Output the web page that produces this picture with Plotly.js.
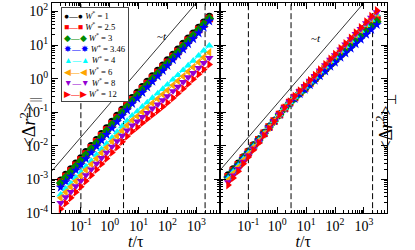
<!DOCTYPE html>
<html><head><meta charset="utf-8">
<script src="https://cdn.plot.ly/plotly-3.0.1.min.js"></script>
<style>html,body{margin:0;padding:0;background:#fff}#chart{width:415px;height:250px}</style>
</head><body><div id="chart"></div>
<script>
// time axis t/tau (shared by every series)
const tTimes = [0.02,0.03,0.045,0.067,0.1,0.15,0.23,0.35,0.52,0.78,1.2,1.8,2.7,4,6,9,13.5,20,30,46,69,100,155,230,350,520,780,1200,1800,2800];

const seriesNames = ['1','2.5','3','3.46','4','6','8','12'];
const seriesColors = ['#000000','#ff0000','#008b00','#0000ff','#00ffff','#ffa500','#9400d3','#ff0000'];
const seriesSymbols = ['circle','square','diamond','star','triangle-up','triangle-left','triangle-down','triangle-right'];
const legendGlyphs = ['\u25CF','\u25A0','\u25C6','\u2738','\u25B2','\u25C0','\u25BC','\u25B6'];

// <Δr²>_|| (left panel)
const par_W1   = [9.5e-4,1.41e-3,2.04e-3,3.02e-3,4.37e-3,6.6e-3,0.0100,0.0151,0.0229,0.0339,0.0525,0.0794,0.120,0.178,0.269,0.389,0.575,0.813,1.20,1.74,2.51,3.55,5.25,7.41,11.0,15.8,22.4,33.1,47.9,70.8];
const par_W25  = [8.3e-4,1.23e-3,1.78e-3,2.63e-3,3.8e-3,5.75e-3,8.7e-3,0.0132,0.020,0.0295,0.0457,0.0692,0.105,0.155,0.234,0.339,0.50,0.71,1.05,1.51,2.19,3.09,4.57,6.46,9.55,13.8,19.5,28.8,41.7,61.7];
const par_W3   = [7.8e-4,1.15e-3,1.66e-3,2.45e-3,3.55e-3,5.37e-3,8.1e-3,0.0123,0.0186,0.0275,0.0427,0.0646,0.098,0.145,0.219,0.316,0.468,0.661,0.977,1.41,2.04,2.88,4.27,6.17,9.12,13.2,19.1,28.2,41.7,61.7];
const par_W346 = [5.75e-4,8.5e-4,1.23e-3,1.86e-3,2.69e-3,4.07e-3,6.17e-3,9.55e-3,0.0145,0.0214,0.0331,0.0513,0.0776,0.115,0.178,0.257,0.380,0.550,0.813,1.17,1.70,2.40,3.55,5.01,7.41,10.7,15.1,22.4,33.1,51.3];
const par_W4   = [3.55e-4,5.25e-4,7.6e-4,1.12e-3,1.62e-3,2.40e-3,3.55e-3,5.37e-3,7.9e-3,0.0115,0.0174,0.0257,0.038,0.055,0.079,0.105,0.145,0.195,0.263,0.363,0.49,0.66,0.93,1.26,1.78,2.45,3.39,4.79,6.76,9.55];
const par_W6   = [2.82e-4,4.17e-4,6.03e-4,8.9e-4,1.29e-3,1.91e-3,2.82e-3,4.17e-3,6.17e-3,8.9e-3,0.0135,0.0195,0.0282,0.0407,0.0575,0.0759,0.102,0.138,0.186,0.251,0.339,0.447,0.631,0.851,1.17,1.62,2.19,3.09,4.27,6.03];
const par_W8   = [2.0e-4,2.95e-4,4.27e-4,6.3e-4,9.1e-4,1.35e-3,2.0e-3,2.95e-3,4.37e-3,6.3e-3,9.5e-3,0.0138,0.020,0.0288,0.0407,0.0537,0.0724,0.0955,0.129,0.170,0.229,0.302,0.427,0.575,0.794,1.10,1.48,2.09,2.95,4.17];
const par_W12  = [1.32e-4,1.95e-4,2.82e-4,4.17e-4,6.03e-4,8.9e-4,1.32e-3,1.95e-3,2.88e-3,4.17e-3,6.3e-3,9.1e-3,0.0132,0.0191,0.0269,0.0355,0.0479,0.0631,0.0832,0.110,0.145,0.191,0.263,0.363,0.501,0.692,0.955,1.35,1.86,2.63];

// <Δr²>_⊥ (right panel)
const perp_W1   = [1.35e-3,2.04e-3,3.02e-3,4.68e-3,6.9e-3,0.0105,0.0158,0.0245,0.0372,0.055,0.085,0.132,0.195,0.275,0.389,0.537,0.759,1.05,1.48,2.09,2.95,3.98,5.75,7.94,11.2,15.8,21.9,31.6,44.7,64.6];
const perp_W25  = [1.20e-3,1.84e-3,2.75e-3,4.32e-3,6.46e-3,9.9e-3,0.0152,0.0238,0.0365,0.0546,0.085,0.131,0.193,0.272,0.383,0.527,0.741,1.02,1.44,2.02,2.84,3.83,5.51,7.57,10.7,15.0,20.7,29.7,41.9,60.3];
const perp_W3   = [1.15e-3,1.78e-3,2.69e-3,4.2e-3,6.3e-3,9.7e-3,0.015,0.0236,0.0363,0.0545,0.0845,0.129,0.188,0.262,0.366,0.498,0.693,0.944,1.32,1.83,2.55,3.39,4.83,6.58,9.16,12.7,17.4,24.7,34.4,49.0];
const perp_W346 = [1.12e-3,1.73e-3,2.61e-3,4.12e-3,6.21e-3,9.57e-3,0.0148,0.0233,0.0361,0.0543,0.0841,0.127,0.184,0.253,0.349,0.470,0.647,0.873,1.20,1.66,2.28,3.01,4.24,5.70,7.85,10.8,14.6,20.5,28.3,39.8];
const perp_W4   = [1.07e-3,1.66e-3,2.52e-3,3.99e-3,6.04e-3,9.37e-3,0.0145,0.0231,0.0357,0.0541,0.0855,0.134,0.201,0.286,0.410,0.573,0.818,1.14,1.63,2.33,3.33,4.55,6.67,9.29,13.3,19.0,26.5,38.8,55.6,81.3];
const perp_W6   = [9.55e-4,1.50e-3,2.30e-3,3.69e-3,5.65e-3,8.87e-3,0.0139,0.0223,0.0351,0.0537,0.0857,0.135,0.203,0.291,0.419,0.587,0.843,1.18,1.70,2.44,3.51,4.80,7.06,9.91,14.2,20.4,28.6,42.2,60.5,89.1];
const perp_W8   = [8.32e-4,1.32e-3,2.06e-3,3.36e-3,5.21e-3,8.30e-3,0.0132,0.0215,0.0343,0.0532,0.0859,0.136,0.205,0.295,0.425,0.598,0.863,1.21,1.75,2.52,3.64,5.00,7.38,10.4,15.0,21.6,30.3,44.9,64.7,95.5];
const perp_W12  = [6.76e-4,1.10e-3,1.75e-3,2.91e-3,4.61e-3,7.50e-3,0.0122,0.0204,0.0331,0.0525,0.0861,0.137,0.208,0.301,0.437,0.618,0.895,1.27,1.84,2.67,3.86,5.35,7.94,11.2,16.3,23.6,33.4,49.7,72.1,107];

// reference ~t line and crossover times
const guideT = [0.01, 1000];
const guideY = [0.0018, 180];
const markTimes = [0.1, 3, 2000];

const xTickVals = [0.1, 1, 10, 100, 1000];
const xTickText = ['10<sup>-1</sup>','10<sup>0</sup>','10<sup>1</sup>','10<sup>2</sup>','10<sup>3</sup>'];
const yTickVals = [1e-4, 1e-3, 1e-2, 1e-1, 1, 10, 100];
const yTickText = ['10<sup>-4</sup>','10<sup>-3</sup>','10<sup>-2</sup>','10<sup>-1</sup>','10<sup>0</sup>','10<sup>1</sup>','10<sup>2</sup>'];

const parSets = [par_W1, par_W25, par_W3, par_W346, par_W4, par_W6, par_W8, par_W12];
const perpSets = [perp_W1, perp_W25, perp_W3, perp_W346, perp_W4, perp_W6, perp_W8, perp_W12];

function minorVals(lo, hi) {
  const v = [];
  for (let e = lo; e <= hi; e++) for (let m = 2; m <= 9; m++) v.push(m * Math.pow(10, e));
  return v;
}

const traces = [];
[['x','y',parSets],['x2','y2',perpSets]].forEach(([xa, ya, sets]) => {
  traces.push({x: guideT, y: guideY, xaxis: xa, yaxis: ya, mode: 'lines',
    line: {color: '#000', width: 0.8}, showlegend: false, hoverinfo: 'skip'});
  markTimes.forEach(tm => traces.push({x: [tm, tm], y: [1e-6, 1e4], xaxis: xa, yaxis: ya, mode: 'lines',
    line: {color: '#000', width: 1, dash: '6px,3px'}, showlegend: false, hoverinfo: 'skip'}));
  sets.forEach((vals, i) => traces.push({
    x: tTimes, y: vals, xaxis: xa, yaxis: ya, mode: 'lines+markers', name: 'W* = ' + seriesNames[i],
    line: {color: seriesColors[i], width: 1},
    marker: {symbol: seriesSymbols[i], color: seriesColors[i], size: 7.5, line: {width: 0}},
    showlegend: false
  }));
});

const FONT = 'Liberation Serif, Times New Roman, serif';
const xBase = {
  type: 'log', range: [-2, 3.8], showgrid: false, zeroline: false,
  showline: true, linecolor: '#000', linewidth: 1, mirror: 'allticks',
  ticks: 'inside', ticklen: 6, tickcolor: '#000', tickmode: 'array',
  tickvals: xTickVals, ticktext: xTickText,
  minor: {tickmode: 'array', tickvals: minorVals(-2, 3), ticks: 'inside', ticklen: 3, tickcolor: '#000', showgrid: false},
  tickfont: {family: FONT, size: 14, color: '#000'},
  title: {text: '<i>t</i>/τ', font: {family: FONT, size: 16, color: '#000'}, standoff: 0}
};
const yBase = {
  type: 'log', range: [-4, 2.25], showgrid: false, zeroline: false,
  showline: true, linecolor: '#000', linewidth: 1, mirror: 'allticks',
  ticks: 'inside', ticklen: 6, tickcolor: '#000', tickmode: 'array',
  tickvals: yTickVals, ticktext: yTickText,
  minor: {tickmode: 'array', tickvals: minorVals(-4, 2), ticks: 'inside', ticklen: 3, tickcolor: '#000', showgrid: false},
  tickfont: {family: FONT, size: 14, color: '#000'}
};

let legendText = seriesNames.map((n, i) =>
  '<span style="color:' + seriesColors[i] + '">' + legendGlyphs[i] + '\u2014' + legendGlyphs[i] + '</span> <i>W</i><sup>*</sup> = ' + n
).join('<br>');

const layout = {
  width: 415, height: 250,
  margin: {l: 52, r: 28, t: 3, b: 37},
  paper_bgcolor: '#fff', plot_bgcolor: '#fff',
  showlegend: false,
  xaxis: Object.assign({}, xBase, {domain: [0, 0.5], anchor: 'y'}),
  xaxis2: Object.assign({}, xBase, {domain: [0.5, 1], anchor: 'y2'}),
  yaxis: Object.assign({}, yBase, {anchor: 'x'}),
  yaxis2: Object.assign({}, yBase, {anchor: 'x2', showticklabels: false}),
  annotations: [
    {xref: 'paper', yref: 'paper', x: 0.027, y: 0.981, xanchor: 'left', yanchor: 'top', align: 'left',
     text: legendText, showarrow: false, bordercolor: '#444', borderwidth: 1, borderpad: 2, bgcolor: '#fff',
     font: {family: FONT, size: 8.6, color: '#000'}},
    {xref: 'paper', yref: 'paper', x: 0.307, y: 0.88, text: '~<i>t</i>', showarrow: false,
     font: {family: FONT, size: 11, color: '#000'}},
    {xref: 'paper', yref: 'paper', x: 0.809, y: 0.871, text: '~<i>t</i>', showarrow: false,
     font: {family: FONT, size: 11, color: '#000'}},
    {xref: 'paper', yref: 'paper', x: -0.11, y: 0.43, textangle: -90, showarrow: false,
     text: '&lt;Δ<i>r</i><sup>2</sup>&gt;<sub>||</sub>', font: {family: FONT, size: 18, color: '#000'}},
    {xref: 'paper', yref: 'paper', x: 1.04, y: 0.43, textangle: -90, showarrow: false,
     text: '&lt;Δ<i>r</i><sup>2</sup>&gt;<sub>⊥</sub>', font: {family: FONT, size: 18, color: '#000'}}
  ]
};

Plotly.newPlot('chart', traces, layout, {staticPlot: true, displayModeBar: false});
</script>
</body></html>
